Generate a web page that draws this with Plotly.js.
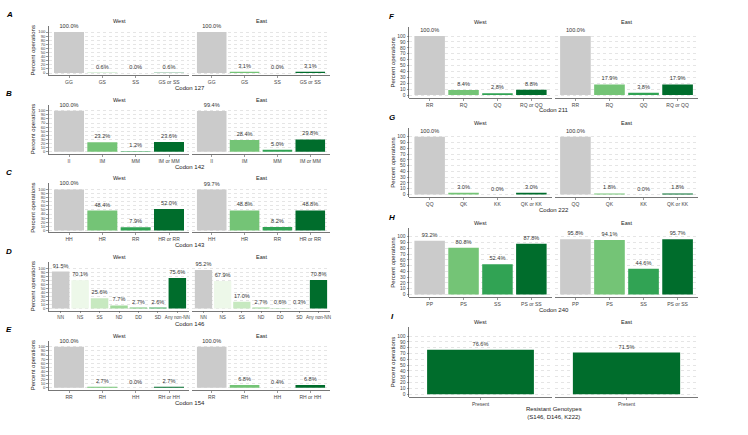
<!DOCTYPE html>
<html>
<head>
<meta charset="utf-8">
<script src="https://cdn.plot.ly/plotly-3.0.1.min.js"></script>
<style>html,body{margin:0;padding:0;background:#fff;}#chart{width:748px;height:435px;}</style>
</head>
<body>
<div id="chart"></div>
<script>
// ---------------- DATA ----------------
const regions = ["West", "East"];

const codon127Cats = ["GG", "GS", "SS", "GS or SS"];
const codon127West = [100.0, 0.6, 0.0, 0.6];
const codon127East = [100.0, 3.1, 0.0, 3.1];

const codon142Cats = ["II", "IM", "MM", "IM or MM"];
const codon142West = [100.0, 23.2, 1.2, 23.6];
const codon142East = [99.4, 28.4, 5.0, 29.8];

const codon143Cats = ["HH", "HR", "RR", "HR or RR"];
const codon143West = [100.0, 48.4, 7.9, 52.0];
const codon143East = [99.7, 48.8, 8.2, 48.8];

const codon146Cats = ["NN", "NS", "SS", "ND", "DD", "SD", "Any non-NN"];
const codon146West = [91.5, 70.1, 25.6, 7.7, 2.7, 2.6, 75.6];
const codon146East = [95.2, 67.9, 17.0, 2.7, 0.6, 0.3, 70.8];

const codon154Cats = ["RR", "RH", "HH", "RH or HH"];
const codon154West = [100.0, 2.7, 0.0, 2.7];
const codon154East = [100.0, 6.8, 0.4, 6.8];

const codon211Cats = ["RR", "RQ", "QQ", "RQ or QQ"];
const codon211West = [100.0, 8.4, 2.8, 8.8];
const codon211East = [100.0, 17.9, 3.8, 17.9];

const codon222Cats = ["QQ", "QK", "KK", "QK or KK"];
const codon222West = [100.0, 3.0, 0.0, 3.0];
const codon222East = [100.0, 1.8, 0.0, 1.8];

const codon240Cats = ["PP", "PS", "SS", "PS or SS"];
const codon240West = [93.2, 80.8, 52.4, 87.8];
const codon240East = [95.8, 94.1, 44.6, 95.7];

const resistantCats = ["Present"];
const resistantWest = [76.6];
const resistantEast = [71.5];

const yTicks = [0, 10, 20, 30, 40, 50, 60, 70, 80, 90, 100];

// ---------------- STYLES ----------------
const GREY = "#cbcbcb";
const colors4 = [GREY, "#74c476", "#31a354", "#006d2c"];
const colors7 = [GREY, "#edf8e9", "#c7e9c0", "#a1d99b", "#74c476", "#41ab5d", "#006d2c"];
const colors1 = ["#006d2c"];

const W = 748, H = 435;
const FONT = "Liberation Sans, Arial, sans-serif";
const TXT = "#333333";
const AXC = "#555555";

const cols = {
  L: {west: [49, 189], east: [192, 330], letterX: 9, yTitleX: 33, tickFs: 4.2, stripOff: 11, letterOff: 17},
  R: {west: [409.3, 551.7], east: [555, 698], letterX: 392, yTitleX: 393, tickFs: 5, stripOff: 14, letterOff: 19.5}
};

const panels = [
  {letter: "A", title: "Codon 127", cats: codon127Cats, west: codon127West, east: codon127East, colors: colors4, col: "L", y100: 32, h: 41, xfs: 5},
  {letter: "B", title: "Codon 142", cats: codon142Cats, west: codon142West, east: codon142East, colors: colors4, col: "L", y100: 110.7, h: 41, xfs: 5},
  {letter: "C", title: "Codon 143", cats: codon143Cats, west: codon143West, east: codon143East, colors: colors4, col: "L", y100: 189.4, h: 41, xfs: 5},
  {letter: "D", title: "Codon 146", cats: codon146Cats, west: codon146West, east: codon146East, colors: colors7, col: "L", y100: 268.1, h: 40.5, xfs: 4.6},
  {letter: "E", title: "Codon 154", cats: codon154Cats, west: codon154West, east: codon154East, colors: colors4, col: "L", y100: 346.8, h: 41, xfs: 5},
  {letter: "F", title: "Codon 211", cats: codon211Cats, west: codon211West, east: codon211East, colors: colors4, col: "R", y100: 36, h: 59, xfs: 5},
  {letter: "G", title: "Codon 222", cats: codon222Cats, west: codon222West, east: codon222East, colors: colors4, col: "R", y100: 136.7, h: 57.8, xfs: 5},
  {letter: "H", title: "Codon 240", cats: codon240Cats, west: codon240West, east: codon240East, colors: colors4, col: "R", y100: 236.7, h: 57.8, xfs: 5},
  {letter: "I", title: "Resistant Genotypes<br>(S146, D146, K222)", cats: resistantCats, west: resistantWest, east: resistantEast, colors: colors1, col: "R", y100: 336, h: 58.3, xfs: 5}
];

const YMIN = -5, YMAX = 115;
const px = v => v / W;
const py = v => 1 - v / H;

const data = [];
const layout = {
  width: W, height: H,
  margin: {l: 0, r: 0, t: 0, b: 0},
  paper_bgcolor: "#ffffff", plot_bgcolor: "#ffffff",
  showlegend: false,
  bargap: 0.1,
  font: {family: FONT, size: 6, color: TXT},
  annotations: []
};

let k = 0;
panels.forEach(p => {
  const g = cols[p.col];
  const topPx = p.y100 - (YMAX - 100) / 100 * p.h;
  const botPx = p.y100 + (100 - YMIN) / 100 * p.h;
  const y0 = p.y100 + p.h;
  [["west", g.west], ["east", g.east]].forEach(([side, xr], si) => {
    k += 1;
    const xa = "xaxis" + (k === 1 ? "" : k), ya = "yaxis" + (k === 1 ? "" : k);
    const xr_ = "x" + (k === 1 ? "" : k), yr_ = "y" + (k === 1 ? "" : k);
    data.push({
      type: "bar", x: p.cats, y: p[side], xaxis: xr_, yaxis: yr_,
      marker: {color: p.colors, line: {width: 0}},
      texttemplate: "%{y:.1f}%", textposition: "outside", constraintext: "none",
      cliponaxis: false,
      textfont: {family: FONT, size: 5.6, color: TXT},
      hoverinfo: "skip"
    });
    layout[xa] = {
      domain: [px(xr[0]), px(xr[1])], anchor: yr_,
      type: "category", range: [-0.6, p.cats.length - 0.4],
      showline: true, linecolor: AXC, linewidth: 0.8,
      ticks: "outside", ticklen: 2, tickcolor: AXC, tickwidth: 0.6,
      tickangle: 0,
      tickfont: {family: FONT, size: p.xfs, color: "#444"},
      showgrid: false, zeroline: false, fixedrange: true
    };
    layout[ya] = {
      domain: [py(botPx), py(topPx)], anchor: xr_,
      range: [YMIN, YMAX], tickvals: yTicks,
      showticklabels: si === 0,
      showline: si === 0, linecolor: AXC, linewidth: 0.8,
      ticks: si === 0 ? "outside" : "", ticklen: 2, tickcolor: AXC, tickwidth: 0.6,
      tickfont: {family: FONT, size: g.tickFs, color: "#444"},
      showgrid: true, gridcolor: "#d4d4d4", gridwidth: 0.6, griddash: "dot",
      zeroline: false, fixedrange: true
    };
    // strip label
    layout.annotations.push({
      text: regions[si], xref: "paper", yref: "paper",
      x: px((xr[0] + xr[1]) / 2), y: py(p.y100 - g.stripOff),
      showarrow: false, xanchor: "center", yanchor: "middle",
      font: {family: FONT, size: 5.5, color: "#222"}
    });
  });
  // panel letter
  layout.annotations.push({
    text: "<b><i>" + p.letter + "</i></b>", xref: "paper", yref: "paper",
    x: px(g.letterX), y: py(p.y100 - g.letterOff),
    showarrow: false, xanchor: "center", yanchor: "middle",
    font: {family: FONT, size: 8, color: "#000"}
  });
  // y title
  layout.annotations.push({
    text: "Percent operations", xref: "paper", yref: "paper",
    x: px(g.yTitleX), y: py((topPx + botPx) / 2), textangle: -90,
    showarrow: false, xanchor: "center", yanchor: "middle",
    font: {family: FONT, size: 6, color: "#222"}
  });
  // x title
  layout.annotations.push({
    text: p.title, xref: "paper", yref: "paper",
    x: px((g.west[0] + g.east[1]) / 2), y: py(y0 + 10),
    showarrow: false, xanchor: "center", yanchor: "top",
    font: {family: FONT, size: 6, color: "#222"}
  });
});

Plotly.newPlot("chart", data, layout, {staticPlot: true, displayModeBar: false});
</script>
</body>
</html>
